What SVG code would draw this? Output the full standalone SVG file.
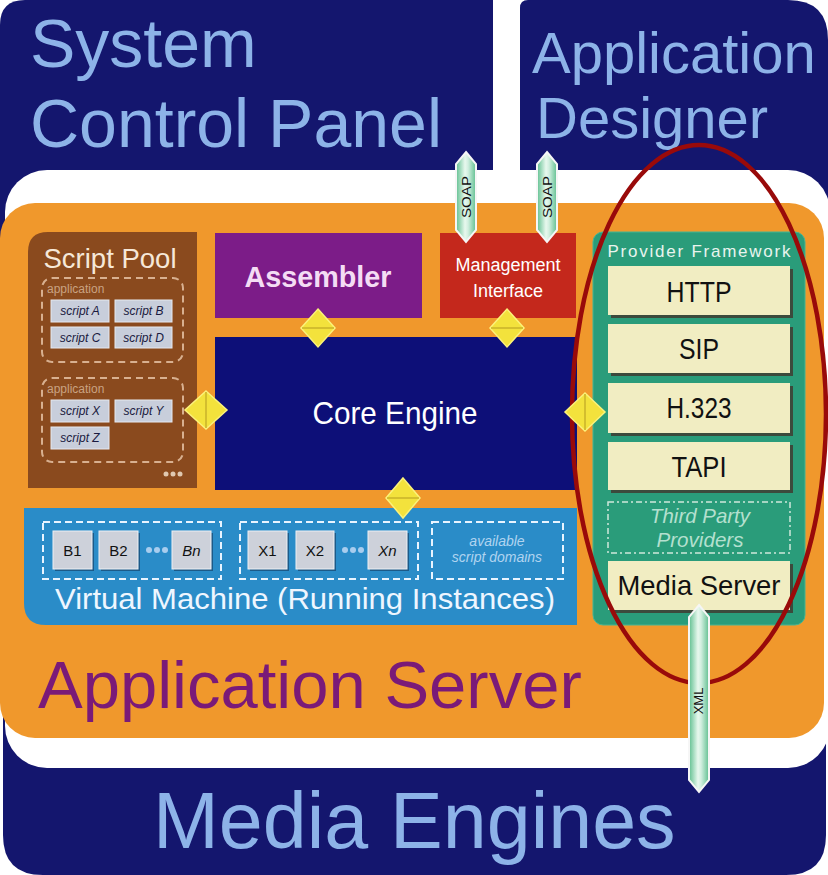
<svg xmlns="http://www.w3.org/2000/svg" width="828" height="875" viewBox="0 0 828 875">
<style>
text{font-family:"Liberation Sans",Arial,sans-serif}
.big{fill:#8db3e8}
.navy{fill:#14166e}
.sbox{fill:#c8cedb;stroke:#e6e9f0;stroke-width:1}
.stxt{font-size:12px;font-style:italic;fill:#1a1a40;text-anchor:middle}
.appl{font-size:12px;fill:#c9a282}
.dashb{fill:none;stroke:#d8b090;stroke-width:2;stroke-dasharray:7 5}
.dashw{fill:none;stroke:#e8f4ff;stroke-width:2;stroke-dasharray:7 4}
.shadow{fill:#3c4a3c}
.cream{fill:#f1edc2}
.ptxt{font-size:29px;fill:#111;text-anchor:middle}
.btn{fill:#cdd1da;stroke:#eef0f4;stroke-width:1}
.bsh{fill:#1c5a88}
.btxt{font-size:15px;fill:#111;text-anchor:middle}
.dot{fill:#a8cdee}
.dia{fill:#f3e23c;stroke:#fbf27a;stroke-width:1.5}
.mid{stroke:#c9b22a;stroke-width:1.5}
.arr{fill:url(#ag);stroke:#f6f6f6;stroke-width:2}
.atxt{font-size:13px;fill:#111;text-anchor:middle}
</style>
<defs>
<linearGradient id="ag" x1="0" y1="0" x2="1" y2="0">
<stop offset="0" stop-color="#5fbf8f"/>
<stop offset="0.45" stop-color="#e8f8ee"/>
<stop offset="0.6" stop-color="#d2efe0"/>
<stop offset="1" stop-color="#5fbf8f"/>
</linearGradient>
</defs>

<!-- outer panels -->
<g id="system-control-panel">
<path class="navy" d="M25,0 H493 V260 H0 V25 Q0,0 25,0 Z"/>
<text class="big" x="30" y="67" font-size="68">System</text>
<text class="big" x="30" y="147" font-size="68">Control Panel</text>
</g>
<g id="application-designer">
<path class="navy" d="M528,0 H788 Q828,0 828,40 V260 H520 V8 Q520,0 528,0 Z"/>
<text class="big" x="532" y="73" font-size="58">Application</text>
<text class="big" x="536" y="138" font-size="58">Designer</text>
</g>
<g id="media-engines">
<path class="navy" d="M3,700 H826 V835 Q826,875 786,875 H43 Q3,875 3,835 Z"/>
<text class="big" x="153" y="848" font-size="79">Media Engines</text>
</g>

<g id="application-server">
<rect x="5" y="170" width="825" height="598" rx="42" fill="#ffffff"/>
<rect x="0" y="203" width="824" height="535" rx="35" fill="#f0982c"/>
<text x="38" y="708" font-size="67" fill="#7a1a78">Application Server</text>
</g>

<g id="script-pool">
<path d="M48,232 H197 V488 H28 V252 Q28,232 48,232 Z" fill="#8a4a1e"/>
<text x="110" y="268" font-size="28" fill="#f6e8d8" text-anchor="middle" textLength="133" lengthAdjust="spacingAndGlyphs">Script Pool</text>
<rect class="dashb" x="42" y="278" width="141" height="84" rx="10"/>
<text class="appl" x="47" y="293">application</text>
<rect class="sbox" x="51" y="300" width="58" height="22"/>
<text class="stxt" x="80" y="315">script A</text>
<rect class="sbox" x="115" y="300" width="57" height="22"/>
<text class="stxt" x="143.5" y="315">script B</text>
<rect class="sbox" x="51" y="327" width="58" height="21"/>
<text class="stxt" x="80" y="342">script C</text>
<rect class="sbox" x="115" y="327" width="57" height="21"/>
<text class="stxt" x="143.5" y="342">script D</text>
<rect class="dashb" x="42" y="378" width="141" height="84" rx="10"/>
<text class="appl" x="47" y="393">application</text>
<rect class="sbox" x="51" y="400" width="58" height="22"/>
<text class="stxt" x="80" y="415">script X</text>
<rect class="sbox" x="115" y="400" width="57" height="22"/>
<text class="stxt" x="143.5" y="415">script Y</text>
<rect class="sbox" x="51" y="427" width="58" height="22"/>
<text class="stxt" x="80" y="442">script Z</text>
<circle cx="166" cy="474" r="2.5" fill="#e0c8b0"/>
<circle cx="173" cy="474" r="2.5" fill="#e0c8b0"/>
<circle cx="180" cy="474" r="2.5" fill="#e0c8b0"/>
</g>

<g id="assembler">
<rect x="215" y="233" width="207" height="85" fill="#7c1c88"/>
<text x="318" y="287" font-size="30" font-weight="bold" fill="#f4dcf4" text-anchor="middle" textLength="147" lengthAdjust="spacingAndGlyphs">Assembler</text>
</g>

<g id="management-interface">
<rect x="440" y="233" width="136" height="85" fill="#c4281c"/>
<text x="508" y="271" font-size="18" fill="#ffffff" text-anchor="middle">Management</text>
<text x="508" y="297" font-size="18" fill="#ffffff" text-anchor="middle">Interface</text>
</g>

<g id="core-engine">
<rect x="215" y="337" width="362" height="153" fill="#0d0f78"/>
<text x="395" y="424" font-size="32" fill="#ffffff" text-anchor="middle" textLength="165" lengthAdjust="spacingAndGlyphs">Core Engine</text>
</g>

<g id="provider-framework">
<rect x="593" y="232" width="212" height="393" rx="10" fill="#2a9c7a" stroke="#45b592" stroke-width="1"/>
<text x="699" y="257" font-size="17" fill="#e8f4ee" text-anchor="middle" textLength="183" lengthAdjust="spacing">Provider Framework</text>
</g>
<g id="http">
<rect class="shadow" x="611" y="269" width="182" height="49"/>
<rect class="cream" x="608" y="266" width="182" height="49"/>
<text class="ptxt" x="699" y="302" textLength="65" lengthAdjust="spacingAndGlyphs">HTTP</text>
</g>
<g id="sip">
<rect class="shadow" x="611" y="327" width="182" height="49"/>
<rect class="cream" x="608" y="324" width="182" height="49"/>
<text class="ptxt" x="699" y="359" textLength="40" lengthAdjust="spacingAndGlyphs">SIP</text>
</g>
<g id="h323">
<rect class="shadow" x="611" y="386" width="182" height="50"/>
<rect class="cream" x="608" y="383" width="182" height="50"/>
<text class="ptxt" x="699" y="418" textLength="65" lengthAdjust="spacingAndGlyphs">H.323</text>
</g>
<g id="tapi">
<rect class="shadow" x="611" y="445" width="182" height="48"/>
<rect class="cream" x="608" y="442" width="182" height="48"/>
<text class="ptxt" x="699" y="477" textLength="55" lengthAdjust="spacingAndGlyphs">TAPI</text>
</g>
<g id="third-party-providers">
<rect x="608" y="502" width="182" height="51" fill="none" stroke="#cfe8dc" stroke-width="1.5" stroke-dasharray="6 3 2 3"/>
<text x="700" y="523" font-size="21" font-style="italic" fill="#b4e0cf" text-anchor="middle" textLength="100" lengthAdjust="spacingAndGlyphs">Third Party</text>
<text x="700" y="547" font-size="21" font-style="italic" fill="#b4e0cf" text-anchor="middle" textLength="87" lengthAdjust="spacingAndGlyphs">Providers</text>
</g>
<g id="media-server">
<rect class="shadow" x="611" y="564" width="182" height="49"/>
<rect class="cream" x="608" y="561" width="182" height="49"/>
<text x="699" y="595" font-size="28" fill="#111" text-anchor="middle" textLength="163" lengthAdjust="spacingAndGlyphs">Media Server</text>
</g>

<g id="virtual-machine">
<path d="M24,508 H577 V625 H46 Q24,625 24,603 Z" fill="#2a8cc8"/>
<rect class="dashw" x="43" y="522" width="178" height="57"/>
<rect class="dashw" x="240" y="522" width="178" height="57"/>
<rect class="dashw" x="432" y="522" width="131" height="57"/>
<rect class="bsh" x="55" y="533" width="39" height="38"/><rect class="btn" x="53" y="531" width="39" height="38"/>
<text class="btxt" x="72.5" y="556">B1</text>
<rect class="bsh" x="101" y="533" width="39" height="38"/><rect class="btn" x="99" y="531" width="39" height="38"/>
<text class="btxt" x="118.5" y="556">B2</text>
<circle class="dot" cx="149" cy="550" r="3"/><circle class="dot" cx="157" cy="550" r="3"/><circle class="dot" cx="165" cy="550" r="3"/>
<rect class="bsh" x="174" y="533" width="39" height="38"/><rect class="btn" x="172" y="531" width="39" height="38"/>
<text class="btxt" x="191.5" y="556" font-style="italic">Bn</text>
<rect class="bsh" x="250" y="533" width="39" height="38"/><rect class="btn" x="248" y="531" width="39" height="38"/>
<text class="btxt" x="267.5" y="556">X1</text>
<rect class="bsh" x="298" y="533" width="38" height="38"/><rect class="btn" x="296" y="531" width="38" height="38"/>
<text class="btxt" x="315" y="556">X2</text>
<circle class="dot" cx="345" cy="550" r="3"/><circle class="dot" cx="353" cy="550" r="3"/><circle class="dot" cx="361" cy="550" r="3"/>
<rect class="bsh" x="370" y="533" width="39" height="38"/><rect class="btn" x="368" y="531" width="39" height="38"/>
<text class="btxt" x="387.5" y="556" font-style="italic">Xn</text>
<text x="497" y="546" font-size="14" font-style="italic" fill="#b0d4f0" text-anchor="middle">available</text>
<text x="497" y="562" font-size="14" font-style="italic" fill="#b0d4f0" text-anchor="middle">script domains</text>
<text x="55" y="609" font-size="30" fill="#eef6ff" textLength="500" lengthAdjust="spacingAndGlyphs">Virtual Machine (Running Instances)</text>
</g>

<g id="highlight">
<ellipse cx="699" cy="414" rx="127" ry="269" fill="none" stroke="#990a0a" stroke-width="4.5"/>
</g>

<g id="connectors">
<polygon class="dia" points="318,309 335,328 318,347 301,328"/><line class="mid" x1="302" y1="328" x2="334" y2="328"/>
<polygon class="dia" points="507,309 524,328 507,347 490,328"/><line class="mid" x1="491" y1="328" x2="523" y2="328"/>
<polygon class="dia" points="206,391 227,410 206,429 185,410"/><line class="mid" x1="206" y1="392" x2="206" y2="428"/>
<polygon class="dia" points="585,393 605,412 585,431 565,412"/><line class="mid" x1="585" y1="394" x2="585" y2="430"/>
<polygon class="dia" points="403,478 420,498 403,518 386,498"/><line class="mid" x1="387" y1="498" x2="419" y2="498"/>
<polygon class="arr" points="466,152 476,164 476,230 466,242 456,230 456,164"/>
<text class="atxt" transform="translate(466,197) rotate(-90)" y="4.5" textLength="42" lengthAdjust="spacingAndGlyphs">SOAP</text>
<polygon class="arr" points="547,152 557,164 557,230 547,242 537,230 537,164"/>
<text class="atxt" transform="translate(547,197) rotate(-90)" y="4.5" textLength="42" lengthAdjust="spacingAndGlyphs">SOAP</text>
<polygon class="arr" points="699,605 709,617 709,780 699,792 689,780 689,617"/>
<text class="atxt" font-size="11" transform="translate(699,701) rotate(-90)" y="4">XML</text>
</g>
</svg>
